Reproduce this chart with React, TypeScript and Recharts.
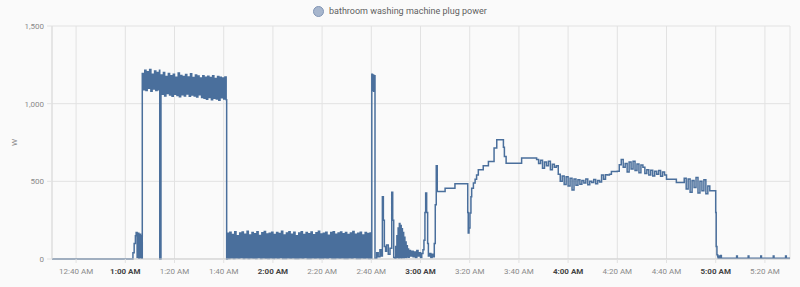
import React from 'react';
import { LineChart, Line, XAxis, YAxis, CartesianGrid } from 'recharts';

// ---------- data (time in minutes after midnight, power in W) ----------
const SERIES_NAME = 'bathroom washing machine plug power';
const UNIT = 'W';
const X_DOMAIN: [number, number] = [30.2, 330.2];
const X_TICKS = [40, 60, 80, 100, 120, 140, 160, 180, 200, 220, 240, 260, 280, 300, 320];
const Y_TICKS = [0, 500, 1000, 1500];

// idle + first ramp (time, watts)
const idleRampPoints: [number, number][] = [
  [30.2, 0], [62.6, 0], [63.1, 40], [63.6, 100], [64.1, 150], [64.4, 170], [64.8, 10],
  [65.1, 165], [65.5, 5], [65.8, 160], [66.2, 8], [66.5, 150], [66.7, 5],
];

// heating band, sampled every 0.5 min
const highBandAStart = 66.9;
const highBandA = [1195, 1090, 1215, 1085, 1205, 1100, 1220, 1080, 1190, 1095, 1210, 1085, 1200, 1090, 1215];
const dipPoints: [number, number][] = [[74.0, 0]];
const highBandBStart = 74.5;
const highBandB = [
  1185, 1060, 1200, 1050, 1175, 1065, 1195, 1055, 1180, 1048,
  1190, 1060, 1170, 1052, 1198, 1045, 1182, 1058, 1175, 1050,
  1188, 1062, 1172, 1047, 1192, 1055, 1168, 1050, 1185, 1043,
  1178, 1058, 1165, 1040, 1180, 1035, 1170, 1028, 1176, 1040,
  1168, 1025, 1180, 1035, 1162, 1030, 1175, 1022, 1170, 1038,
  1165, 1030, 1172, 1025,
];
const dropPoints: [number, number][] = [[101.2, 0]];

// washing band, sampled every 0.5 min
const lowBandStart = 101.5;
const lowBand = [
  165, 4, 172, 7, 158, 3, 176, 6, 150, 5, 168, 8, 174, 4, 160, 6, 178, 3, 155, 7,
  170, 5, 163, 4, 175, 8, 152, 3, 169, 6, 177, 5, 161, 4, 166, 7, 173, 3, 157, 6,
  171, 5, 164, 8, 179, 4, 154, 3, 168, 6, 175, 5, 160, 7, 172, 4, 150, 3, 167, 6,
  176, 5, 158, 8, 170, 4, 163, 3, 174, 6, 156, 5, 169, 7, 178, 4, 161, 3, 165, 6,
  172, 5, 153, 8, 170, 4, 176, 3, 159, 6, 167, 5, 174, 7, 162, 4, 171, 3, 157, 6,
  168, 5, 177, 8, 160, 4, 166, 3, 173, 6, 155, 5, 170, 7, 164, 4, 168, 3,
];
const BAND_STEP = 0.5;

const spikePoints: [number, number][] = [
  [160.2, 1190], [160.45, 1085], [160.7, 1185], [160.95, 1080], [161.2, 1180],
];

const rinsePoints: [number, number][] = [
  [161.5, 5], [162.2, 40], [162.8, 15], [163.5, 60], [164.1, 20], [164.5, 400], [164.9, 250],
  [165.3, 80], [165.8, 50], [166.2, 90], [166.9, 30], [167.6, 70], [168.3, 430], [168.7, 250],
  [169.1, 10], [169.6, 5], [169.9, 80], [170.15, 8], [170.4, 150], [170.65, 10], [170.9, 200],
  [171.15, 6], [171.4, 228], [171.65, 9], [171.9, 215], [172.15, 7], [172.4, 195], [172.65, 10],
  [172.9, 170], [173.15, 8], [173.4, 140], [173.65, 12], [173.9, 110], [174.15, 10], [174.4, 85],
  [174.65, 15], [174.9, 65], [175.15, 12], [175.4, 55], [175.9, 20], [176.5, 50], [177.0, 15],
  [177.5, 45], [178.0, 10], [178.5, 55], [179.0, 20], [179.5, 40], [180.0, 10], [180.5, 35],
  [181.0, 60], [181.4, 120], [181.8, 300], [182.1, 425], [182.5, 300], [182.9, 100], [183.2, 20],
  [183.7, 35], [184.2, 10], [184.7, 30], [185.2, 15], [185.6, 100], [186.0, 350], [186.4, 600],
  [186.8, 435],
];

const heatPoints: [number, number][] = [
  [190.0, 455], [194.0, 484], [199.2, 300], [199.4, 167], [199.7, 200], [200.1, 296],
  [200.5, 400], [200.8, 456], [201.5, 490], [202.2, 514], [202.8, 540], [203.5, 574],
  [205.5, 600], [207.6, 628], [209.9, 714], [211.0, 767], [213.7, 720], [214.1, 660],
  [214.8, 617], [221.1, 650],
];

// later band, sampled every 0.8 min
const spinBandStart = 227.2;
const SPIN_STEP = 0.8;
const spinBand = [
  640, 615, 635, 585, 625, 600, 630, 575, 610, 590, 600,
  545, 500, 535, 480, 530, 470, 520, 445, 515, 475,
  510, 482, 505, 490, 515, 478, 500, 492, 512, 485, 505, 495,
  540, 513, 542, 540, 545,
  563, 563, 563, 565,
  606, 640, 590, 615, 560, 625, 580, 630, 570, 612, 555, 605,
  590, 550, 575, 540, 572, 535, 565, 545, 570, 532, 560,
  540, 514, 514, 514, 514,
  514, 493, 493, 493,
  493, 520, 450, 515, 430, 505, 460, 525, 425, 500, 440, 510, 420,
  470, 439, 439, 439, 300,
];

const tailPoints: [number, number][] = [
  [300.2, 81], [300.5, 28], [300.8, 15], [301.0, 5], [301.3, 20], [301.6, 5], [302.0, 22],
  [302.3, 5], [308.5, 20], [308.8, 5], [313.2, 20], [313.5, 5], [318.3, 20], [318.6, 5],
  [323.4, 20], [323.7, 5], [328.4, 20], [328.7, 5], [330.2, 5],
];

// ---------- build table ----------
type Row = { t: number; w: number };
const fromPairs = (p: [number, number][]): Row[] => p.map(([t, w]) => ({ t, w }));
const fromBand = (start: number, step: number, vals: number[]): Row[] =>
  vals.map((w, i) => ({ t: Math.round((start + i * step) * 100) / 100, w }));

const data: Row[] = [
  ...fromPairs(idleRampPoints),
  ...fromBand(highBandAStart, BAND_STEP, highBandA),
  ...fromPairs(dipPoints),
  ...fromBand(highBandBStart, BAND_STEP, highBandB),
  ...fromPairs(dropPoints),
  ...fromBand(lowBandStart, BAND_STEP, lowBand),
  ...fromPairs(spikePoints),
  ...fromPairs(rinsePoints),
  ...fromPairs(heatPoints),
  ...fromBand(spinBandStart, SPIN_STEP, spinBand),
  ...fromPairs(tailPoints),
].sort((a, b) => a.t - b.t);

// ---------- styling ----------
const FONT = 'Roboto, "Noto Sans", sans-serif';
const LINE_COLOR = '#4a6f9c';
const GRID_COLOR = '#e2e2e2';

const fmtTime = (v: number) => {
  const h = Math.floor(v / 60);
  const m = Math.round(v % 60);
  const hh = h === 0 ? 12 : h;
  return `${hh}:${m.toString().padStart(2, '0')} AM`;
};

const XTick = (props: any) => {
  const { x, y, payload } = props;
  const v = payload.value as number;
  const isHour = Math.round(v % 60) === 0;
  return (
    <text
      x={x}
      y={y + 9}
      textAnchor="middle"
      fontFamily={FONT}
      fontSize={8}
      fontWeight={isHour ? 700 : 400}
      fill={isHour ? '#444' : '#8a8a8a'}
    >
      {fmtTime(v)}
    </text>
  );
};

const YLabel = (props: any) => {
  const vb = props.viewBox || { x: 0, y: 0, height: 0 };
  const cx = 14;
  const cy = vb.y + vb.height / 2;
  return (
    <text
      x={cx}
      y={cy}
      transform={`rotate(-90 ${cx} ${cy})`}
      textAnchor="middle"
      dominantBaseline="central"
      fontFamily={FONT}
      fontSize={8}
      fill="#8a8a8a"
    >
      {UNIT}
    </text>
  );
};

export default function App() {
  return (
    <div
      style={{
        position: 'absolute',
        left: 0,
        top: 0,
        width: 800,
        height: 287,
        background: '#fafafa',
        fontFamily: FONT,
      }}
    >
      <div
        style={{
          position: 'absolute',
          left: 313,
          top: 5,
          height: 12,
          display: 'flex',
          alignItems: 'center',
          fontSize: 9,
          color: '#5f5f5f',
          whiteSpace: 'nowrap',
        }}
      >
        <span
          style={{
            display: 'inline-block',
            width: 9,
            height: 9,
            borderRadius: '50%',
            background: '#a7b6cd',
            border: '1px solid #8195b5',
            marginRight: 5,
          }}
        />
        <span>{SERIES_NAME}</span>
      </div>
      <LineChart
        width={800}
        height={287}
        data={data}
        margin={{ top: 26, right: 10, left: 0, bottom: 8 }}
      >
        <CartesianGrid stroke={GRID_COLOR} strokeWidth={1} />
        <XAxis
          dataKey="t"
          type="number"
          domain={X_DOMAIN}
          ticks={X_TICKS}
          interval={0}
          allowDataOverflow
          height={20}
          tickSize={4}
          tickMargin={2}
          axisLine={{ stroke: '#cfcfcf' }}
          tickLine={{ stroke: GRID_COLOR }}
          tick={<XTick />}
        />
        <YAxis
          type="number"
          domain={[0, 1500]}
          ticks={Y_TICKS}
          width={52}
          tickSize={5}
          tickMargin={3}
          axisLine={{ stroke: '#dcdcdc' }}
          tickLine={{ stroke: GRID_COLOR }}
          tick={{ fontSize: 8, fill: '#8a8a8a', fontFamily: FONT }}
          tickFormatter={(v: number) => v.toLocaleString('en-US')}
          label={<YLabel />}
        />
        <Line
          type="stepAfter"
          dataKey="w"
          stroke={LINE_COLOR}
          strokeWidth={1.5}
          dot={false}
          isAnimationActive={false}
        />
      </LineChart>
    </div>
  );
}
